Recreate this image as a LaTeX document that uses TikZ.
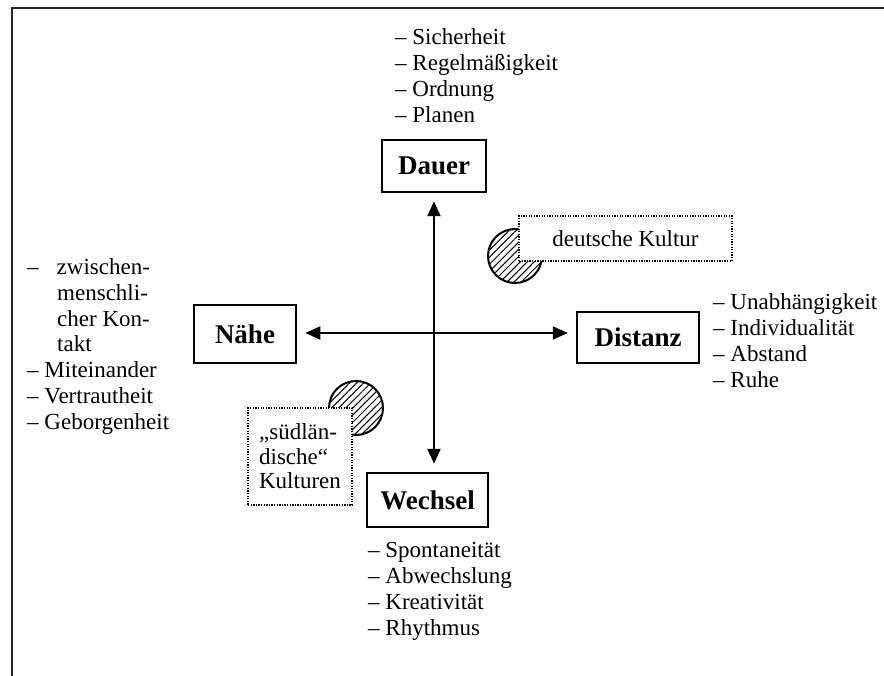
\documentclass[tikz,border=0pt]{standalone}
\usepackage{fontspec}
\setmainfont{Liberation Serif}
\usetikzlibrary{arrows.meta,patterns.meta}

\begin{document}
\begin{tikzpicture}[x=1pt,y=-1pt,
  every node/.style={inner sep=0pt},
  pole/.style={draw, line width=2.5pt, fill=white,
    font=\fontsize{27}{30}\selectfont\bfseries},
  culture/.style={draw, line width=2.2pt, dash pattern=on 1.3pt off 1.3pt,
    fill=white, font=\fontsize{23}{24.5}\selectfont},
  item/.style={anchor=base west, font=\fontsize{23}{26}\selectfont},
  axis/.style={line width=2pt, shorten <=8pt, shorten >=8pt,
    {Triangle[length=15pt,width=13pt]}-{Triangle[length=15pt,width=13pt]}},
  blob/.style={draw, line width=2pt,
    pattern={Lines[angle=45,distance=5pt,line width=1pt]}},
  frame/.style={line width=1.8pt, draw=black!85},
]
% page size
\useasboundingbox (0,0) rectangle (884,676);

% open frame: top and left edges
\coordinate (fTL) at (12,8);
\coordinate (fTR) at (884,8);
\coordinate (fBL) at (12,676);
\draw[frame] (fTR) -- (fTL) -- (fBL);

% the four poles
\node[pole, minimum width=104pt, minimum height=52pt] (dauer)   at (434,166)   {Dauer};
\node[pole, minimum width=102pt, minimum height=58pt] (naehe)   at (245,334)   {Nähe};
\node[pole, minimum width=122pt, minimum height=51pt] (distanz) at (638,337.5) {Distanz};
\node[pole, minimum width=121pt, minimum height=54pt] (wechsel) at (427.5,500) {Wechsel};

% axes
\draw[axis] (dauer.south) -- (dauer.south |- wechsel.north);
\draw[axis] (naehe.east |- 0,333) -- (distanz.west |- 0,333);

% cultural positions
\node[blob, circle, minimum size=54pt] (deC) at (515,256) {};
\node[culture, minimum width=213pt, minimum height=45pt] (de) at (625.5,238.5) {deutsche Kultur};
\node[blob, circle, minimum size=54pt] (suedC) at (356,408) {};
\node[culture, align=left, minimum width=104pt, minimum height=97pt] (sued) at (300,456.5)
  {„südlän-\\dische“\\Kulturen};

% Dauer
\node[item] (d1) at (395,45)  {– Sicherheit};
\node[item] (d2) at (395,71)  {– Regelmäßigkeit};
\node[item] (d3) at (395,97)  {– Ordnung};
\node[item] (d4) at (395,123) {– Planen};

% Nähe
\node[item] (n1) at (27,275)   {–\hspace*{18pt}zwischen-};
\node[item] (n2) at (27,300.7) {\hspace*{30pt}menschli-};
\node[item] (n3) at (27,326.4) {\hspace*{30pt}cher Kon-};
\node[item] (n4) at (27,352)   {\hspace*{30pt}takt};
\node[item] (n5) at (27,377.8) {– Miteinander};
\node[item] (n6) at (27,403.5) {– Vertrautheit};
\node[item] (n7) at (27,429.2) {– Geborgenheit};

% Distanz
\node[item] (s1) at (713,310) {– Unabhängigkeit};
\node[item] (s2) at (713,336) {– Individualität};
\node[item] (s3) at (713,362) {– Abstand};
\node[item] (s4) at (713,388) {– Ruhe};

% Wechsel
\node[item] (w1) at (368,557) {– Spontaneität};
\node[item] (w2) at (368,583) {– Abwechslung};
\node[item] (w3) at (368,609) {– Kreativität};
\node[item] (w4) at (368,635) {– Rhythmus};
\end{tikzpicture}
\end{document}
